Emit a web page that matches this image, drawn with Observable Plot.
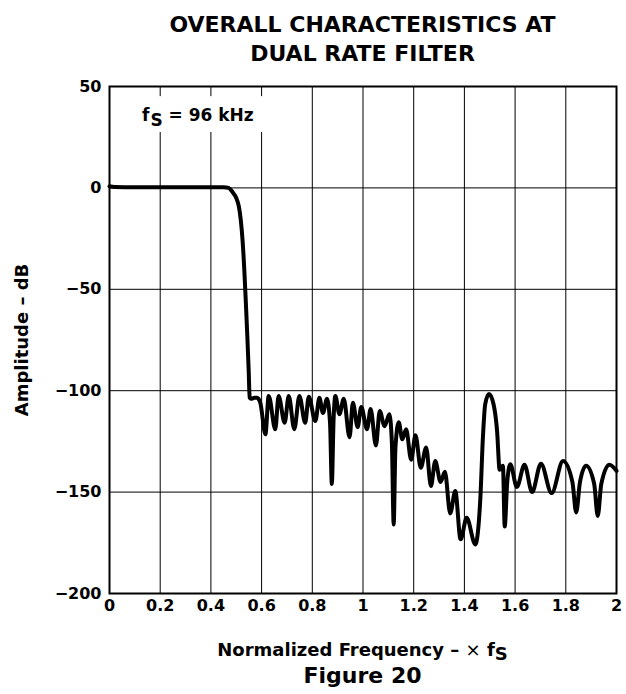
<!DOCTYPE html>
<html>
<head>
<meta charset="utf-8">
<script src="https://cdn.jsdelivr.net/npm/d3@7"></script>
<script src="https://cdn.jsdelivr.net/npm/@observablehq/plot@0.6"></script>
<style>
  html, body { margin: 0; padding: 0; background: #fff; }
  body { width: 626px; height: 694px; position: relative; font-family: "DejaVu Sans", sans-serif; font-weight: bold; color: #000; }
  #title { position: absolute; left: 109px; width: 507px; top: 10px; text-align: center; font-size: 22px; line-height: 29px; }
  #chart { position: absolute; left: 0; top: 70px; }
  #chart svg { display: block; }
  #xlabel { position: absolute; left: 109px; width: 507px; top: 641px; text-align: center; font-size: 18px; line-height: 18px; white-space: nowrap; }
  #xlabel .times { font-weight: normal; }
  #xlabel sub { font-size: 18px; vertical-align: -4px; line-height: 0; }
  #caption { position: absolute; left: 109px; width: 507px; top: 665px; text-align: center; font-size: 22px; line-height: 22px; }
</style>
</head>
<body>
<div id="title">OVERALL CHARACTERISTICS AT<br>DUAL RATE FILTER</div>
<div id="chart"></div>
<div id="xlabel">Normalized Frequency – <span class="times">×</span> f<sub>S</sub></div>
<div id="caption">Figure 20</div>
<script>
// ---- data ----
const freq = [
  0, 0.02, 0.1, 0.3, 0.45, 0.47, 0.485, 0.5, 0.51, 0.518, 0.525, 0.532, 0.538, 0.544, 0.549, 0.553,
  0.558, 0.572, 0.582, 0.595,
  0.615, 0.628, 0.654, 0.667, 0.691, 0.707, 0.729, 0.749, 0.772, 0.786, 0.812, 0.828, 0.842, 0.858,
  0.870, 0.877, 0.884, 0.891, 0.907, 0.924, 0.947, 0.960, 0.979, 0.993, 1.016, 1.030, 1.051, 1.066,
  1.085, 1.104, 1.114, 1.121, 1.128, 1.141, 1.155, 1.170, 1.190, 1.207, 1.228, 1.249, 1.268, 1.285,
  1.306, 1.323, 1.344, 1.364, 1.385, 1.409, 1.443, 1.463, 1.473, 1.482, 1.497, 1.515, 1.529, 1.539,
  1.545, 1.552, 1.559, 1.569, 1.581, 1.607, 1.637, 1.667, 1.702, 1.744, 1.789, 1.826, 1.841, 1.856,
  1.880, 1.912, 1.926, 1.940, 1.972, 2.0
];
const amplitude = [
  0.8, 0.5, 0.3, 0.3, 0.3, 0, -2, -5, -9, -16, -26, -41, -57, -74, -90, -103.5,
  -104, -103.5, -103.5, -106,
  -121.5, -102.6, -119, -102.6, -115.8, -102.6, -119, -102.6, -115.8, -103, -115, -103.5, -111, -104,
  -116, -146, -114, -102.6, -111.6, -104, -123, -106, -118, -108, -119, -109, -127, -110,
  -117.5, -111.6, -126, -166, -128, -115.5, -124, -119, -134, -122, -138, -128, -147, -134.7,
  -145, -140, -160.5, -149.5, -173.3, -162.7, -175.8, -152.8, -123, -106.7, -101.6, -106.7, -120, -139,
  -138, -137, -167, -145, -136.3, -147.5, -136.5, -150, -136, -150.5, -134.7, -145, -160, -145,
  -137, -146, -161.8, -146, -136.5, -139.5
];
const xTicks = [0, 0.2, 0.4, 0.6, 0.8, 1, 1.2, 1.4, 1.6, 1.8, 2];
const xTickLabels = ["0", "0.2", "0.4", "0.6", "0.8", "1", "1.2", "1.4", "1.6", "1.8", "2"];
const yTicks = [50, 0, -50, -100, -150, -200];
const yTickLabels = ["50", "0", "−50", "−100", "−150", "−200"];
const yLabel = "Amplitude – dB";
const noteParts = ["f", "S", "= 96 kHz"];

const data = freq.map((f, i) => ({f, a: amplitude[i]}));

const chart = Plot.plot({
  width: 626,
  height: 553,
  marginTop: 16,
  marginLeft: 109,
  marginRight: 10,
  marginBottom: 30,
  x: {domain: [0, 2]},
  y: {domain: [-200, 50]},
  style: {fontFamily: "DejaVu Sans, sans-serif", fontWeight: "bold", fontSize: "16px", color: "#000", background: "#fff", overflow: "visible"},
  marks: [
    Plot.gridX(xTicks, {stroke: "#000", strokeOpacity: 1, strokeWidth: 1}),
    Plot.gridY(yTicks, {stroke: "#000", strokeOpacity: 1, strokeWidth: 1}),
    Plot.rect([0], {x1: 0.1, x2: 0.62, y1: 27.3, y2: 45, fill: "#fff"}),
    Plot.text([noteParts[0]], {frameAnchor: "top-left", text: d => d, dx: 32.5, dy: 22.8, textAnchor: "start", lineAnchor: "top", fontSize: 17, fontWeight: "bold"}),
    Plot.text([noteParts[1]], {frameAnchor: "top-left", text: d => d, dx: 41, dy: 27, textAnchor: "start", lineAnchor: "top", fontSize: 17, fontWeight: "bold"}),
    Plot.text([noteParts[2]], {frameAnchor: "top-left", text: d => d, dx: 59, dy: 22.8, textAnchor: "start", lineAnchor: "top", fontSize: 17, fontWeight: "bold"}),
    Plot.line(data, {x: "f", y: "a", curve: "monotone-x", stroke: "#000", strokeWidth: 4, strokeLinejoin: "round"}),
    Plot.frame({stroke: "#000", strokeWidth: 2}),
    Plot.axisX(xTicks, {tickSize: 0, tickPadding: 6, tickFormat: d => xTickLabels[xTicks.indexOf(d)], label: null, fontSize: 16, fontWeight: "bold"}),
    Plot.axisY(yTicks, {tickSize: 0, tickPadding: 8, tickFormat: d => yTickLabels[yTicks.indexOf(d)], label: null, fontSize: 16, fontWeight: "bold"}),
    Plot.text([yLabel], {frameAnchor: "left", text: d => d, rotate: -90, dx: -87, textAnchor: "middle", lineAnchor: "middle", fontSize: 18, fontWeight: "bold"})
  ]
});
document.getElementById("chart").appendChild(chart);
</script>
</body>
</html>
